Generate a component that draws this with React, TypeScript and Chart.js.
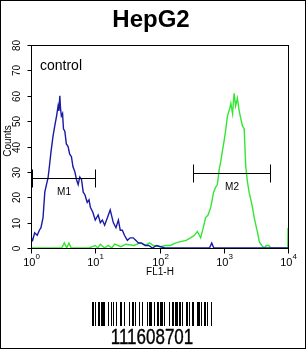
import React, { useEffect, useRef } from 'react';
import { Chart, registerables } from 'chart.js';

Chart.register(...registerables);

const TITLE = 'HepG2';
const SAMPLE_LABEL = 'control';
const X_TITLE = 'FL1-H';
const Y_TITLE = 'Counts';
const BARCODE_TEXT = '111608701';

// control (blue) histogram: fluorescence value / counts
const blueX = [
  1, 1.01, 1.06, 1.14, 1.25, 1.35, 1.43, 1.54, 1.64, 1.74,
  1.84, 1.95, 2.05, 2.2, 2.34, 2.5, 2.64, 2.72, 2.81, 2.88,
  2.97, 3.1, 3.2, 3.36, 3.55, 3.78, 4.0, 4.26, 4.5, 4.82,
  5.1, 5.42, 5.75, 6.11, 6.5, 6.9, 7.5, 8.0, 8.4, 9.2,
  10, 11.1, 12.0, 12.9, 14, 15.5, 17.1, 19.1, 21, 22.9,
  24.5, 26.4, 28.5, 31.6, 35, 39, 43, 46.9, 52, 60.4,
  68, 77.7, 90, 120, 200, 400, 600, 650, 700, 1000,
  3000, 10000,
];
const blueY = [
  13, 4, 3, 6, 5, 7, 8, 12, 22, 25,
  27.5, 33, 38, 44, 48, 52, 56, 54, 60, 55,
  52, 53, 47, 46, 41, 40, 37, 36, 32, 30,
  27, 25, 28, 27, 22, 21, 18, 19, 16, 14,
  11, 13, 10, 11, 9, 12, 15, 10, 8, 11,
  7, 7, 5, 3, 4, 4, 3, 2, 2, 1,
  1, 0, 1, 0, 0, 0, 0, 2, 0, 0,
  0, 0,
];

// stained sample (green) histogram
const greenX = [
  1, 3, 3.3, 3.6, 3.9, 4.2, 4.6, 5, 8, 10,
  11, 12, 14, 16, 18, 20, 25, 30, 40, 50,
  60, 70, 80, 104, 125, 148, 180, 212, 260, 304,
  350, 388, 437, 480, 522, 570, 627, 696, 750, 795,
  850, 897, 950, 1010, 1080, 1140, 1240, 1290, 1370, 1450,
  1530, 1630, 1740, 1840, 1960, 2080, 2200, 2340, 2480, 2640,
  2800, 2980, 3160, 3370, 3570, 3900, 4270, 4600, 5040, 5400,
  5760, 7000, 9900, 10000,
];
const greenY = [
  0, 0, 2, 0, 2, 0, 0, 0, 0, 1,
  0, 1.5, 0, 1, 0, 1.5, 0.5, 1.5, 1, 2,
  1, 2, 1, 0.5, 1, 1, 2, 2.5, 3, 4,
  5, 6.5, 4, 8, 12, 13, 16, 22, 24, 25,
  31, 34, 38, 42, 47, 52, 55, 57, 53, 61,
  56, 59, 54, 51, 48, 47, 32, 26, 22, 19,
  16, 12, 9, 6, 2.5, 1, 0, 1, 1, 0,
  0, 0, 0, 8,
];

// gate markers
const markerNames = ['M1', 'M2'];
const markerFrom = [1.04, 328];
const markerTo = [10, 5230];
const markerLevel = [27.6, 29.5];

// barcode bar/space widths (alternating, starting with a bar)
const BARCODE_WIDTHS = '21122143121112132214122113121411321221311412213121132112233112211312';

const FONT = '"Liberation Sans", Arial, Helvetica, sans-serif';

const overlay = {
  id: 'overlay',
  afterDraw(chart: any) {
    const { ctx, chartArea: a, scales } = chart;
    const xs = scales.x;
    const ys = scales.y;
    ctx.save();
    ctx.strokeStyle = '#000';
    ctx.fillStyle = '#000';
    ctx.lineWidth = 1;

    // frame
    const L = Math.round(a.left) + 0.5;
    const T = Math.round(a.top) + 0.5;
    const R = Math.round(a.right) + 0.5;
    const B = Math.round(a.bottom) + 0.5;
    ctx.strokeRect(L, T, R - L, B - T);

    // y ticks
    ys.ticks.forEach((t: any) => {
      const py = Math.round(ys.getPixelForValue(t.value)) + 0.5;
      ctx.beginPath();
      ctx.moveTo(L - 4, py);
      ctx.lineTo(L, py);
      ctx.stroke();
      ctx.save();
      ctx.translate(17, py);
      ctx.rotate(-Math.PI / 2);
      ctx.font = `10px ${FONT}`;
      ctx.textAlign = 'center';
      ctx.textBaseline = 'middle';
      ctx.fillText(String(t.value), 0, 0);
      ctx.restore();
    });

    // x ticks
    xs.ticks.forEach((t: any) => {
      const lg = Math.log10(t.value);
      const major = Math.abs(lg - Math.round(lg)) < 1e-6;
      const px = Math.round(xs.getPixelForValue(t.value)) + 0.5;
      ctx.beginPath();
      ctx.moveTo(px, B);
      ctx.lineTo(px, B + (major ? 5 : 3));
      ctx.stroke();
      if (major) {
        const exp = String(Math.round(lg));
        ctx.font = `11px ${FONT}`;
        const w1 = ctx.measureText('10').width;
        ctx.font = `8px ${FONT}`;
        const w2 = ctx.measureText(exp).width;
        const start = px - (w1 + w2) / 2;
        ctx.textAlign = 'left';
        ctx.textBaseline = 'alphabetic';
        ctx.font = `11px ${FONT}`;
        ctx.fillText('10', start, 266);
        ctx.font = `8px ${FONT}`;
        ctx.fillText(exp, start + w1, 259);
      }
    });

    // axis titles
    ctx.font = `10px ${FONT}`;
    ctx.textAlign = 'center';
    ctx.textBaseline = 'middle';
    ctx.fillText(X_TITLE, (L + R) / 2, 272);
    ctx.save();
    ctx.translate(8, 141);
    ctx.rotate(-Math.PI / 2);
    ctx.fillText(Y_TITLE, 0, 0);
    ctx.restore();

    // title
    ctx.font = `bold 24px ${FONT}`;
    ctx.textBaseline = 'alphabetic';
    ctx.fillText(TITLE, 151, 27);

    // sample label
    ctx.font = `14px ${FONT}`;
    ctx.textAlign = 'left';
    ctx.fillText(SAMPLE_LABEL, 40, 70);

    // markers
    markerNames.forEach((name, i) => {
      const x1 = Math.round(xs.getPixelForValue(markerFrom[i])) + 0.5;
      const x2 = Math.round(xs.getPixelForValue(markerTo[i])) + 0.5;
      const py = Math.round(ys.getPixelForValue(markerLevel[i])) + 0.5;
      ctx.beginPath();
      ctx.moveTo(x1, py);
      ctx.lineTo(x2, py);
      ctx.moveTo(x1, py - 9);
      ctx.lineTo(x1, py + 9);
      ctx.moveTo(x2, py - 9);
      ctx.lineTo(x2, py + 9);
      ctx.stroke();
      ctx.font = `10px ${FONT}`;
      ctx.textAlign = 'center';
      ctx.textBaseline = 'middle';
      ctx.fillText(name, (x1 + x2) / 2, py + 14);
    });

    ctx.restore();
  },
};

export default function App() {
  const ref = useRef<HTMLCanvasElement | null>(null);

  useEffect(() => {
    document.body.style.margin = '0';
    const canvas = ref.current;
    if (!canvas) return;
    const chart = new Chart(canvas, {
      type: 'line',
      data: {
        datasets: [
          {
            label: 'control',
            data: blueX.map((x, i) => ({ x, y: blueY[i] })),
            borderColor: '#1a1aa8',
            borderWidth: 1.4,
            pointRadius: 0,
            tension: 0,
            fill: false,
          },
          {
            label: 'sample',
            data: greenX.map((x, i) => ({ x, y: greenY[i] })),
            borderColor: '#33e633',
            borderWidth: 1.4,
            pointRadius: 0,
            tension: 0,
            fill: false,
          },
        ],
      },
      options: {
        animation: false,
        responsive: false,
        devicePixelRatio: 1,
        layout: { padding: { left: 31, top: 45, right: 18, bottom: 101 } },
        plugins: { legend: { display: false }, tooltip: { enabled: false }, title: { display: false } },
        scales: {
          x: { type: 'logarithmic', min: 1, max: 10000, display: false },
          y: { type: 'linear', min: 0, max: 80, ticks: { stepSize: 10 }, display: false },
        },
      },
      plugins: [overlay],
    });
    return () => chart.destroy();
  }, []);

  const bars: React.ReactNode[] = [];
  BARCODE_WIDTHS.split('').forEach((d, i) => {
    bars.push(
      <div key={i} style={{ width: Number(d), height: '100%', background: i % 2 === 0 ? '#000' : '#fff' }} />
    );
  });

  return (
    <div
      style={{
        position: 'relative',
        width: 306,
        height: 349,
        boxSizing: 'border-box',
        border: '1px solid #000',
        background: '#fff',
        overflow: 'hidden',
      }}
    >
      <canvas ref={ref} width={306} height={349} style={{ position: 'absolute', left: -1, top: -1 }} />
      <div style={{ position: 'absolute', left: 91, top: 301, height: 24, display: 'flex' }}>{bars}</div>
      <div
        style={{
          position: 'absolute',
          left: 0,
          width: 302,
          top: 325,
          textAlign: 'center',
          fontFamily: FONT,
          fontSize: 17,
          lineHeight: '17px',
          transform: 'scaleY(1.25)',
          transformOrigin: 'top',
          color: '#000',
          WebkitTextStroke: '0.3px #000',
        }}
      >
        {BARCODE_TEXT}
      </div>
    </div>
  );
}
